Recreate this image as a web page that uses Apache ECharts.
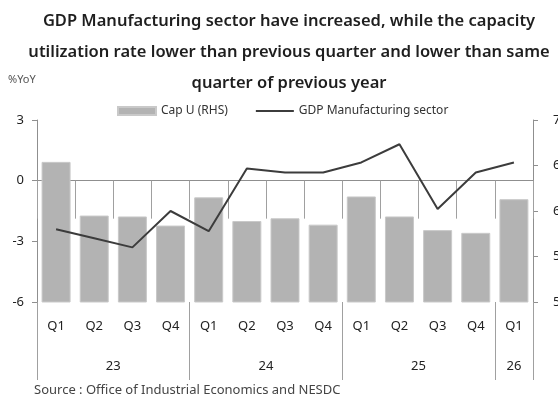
<!DOCTYPE html>
<html>
<head>
<meta charset="utf-8">
<script src="https://cdn.jsdelivr.net/npm/echarts@6/dist/echarts.min.js"></script>
<style>
  html, body { margin: 0; padding: 0; background: #fff; }
  #chart { width: 558px; height: 398px; }
</style>
</head>
<body>
<div id="chart"></div>
<script>
// Quarter labels along the bottom axis
const quarters = ['Q1', 'Q2', 'Q3', 'Q4', 'Q1', 'Q2', 'Q3', 'Q4', 'Q1', 'Q2', 'Q3', 'Q4', 'Q1'];
// Year groups and how many quarters each spans
const years = ['23', '24', '25', '26'];
const yearSpans = [4, 4, 4, 1];
// Capacity utilization (right axis, %)
const capU = [65.4, 59.5, 59.4, 58.4, 61.5, 58.9, 59.2, 58.5, 61.6, 59.4, 57.9, 57.6, 61.3];
// GDP manufacturing sector (left axis, %YoY)
const gdpMfg = [-2.4, -2.85, -3.3, -1.5, -2.5, 0.6, 0.4, 0.4, 0.9, 1.8, -1.4, 0.4, 0.9];
// Axis tick settings
const leftTicks = { min: -6, max: 3, interval: 3 };
const rightTicks = { min: 50, max: 70, interval: 5 };

// Year separators sit on group boundaries, labels at group centres
const yearBounds = [0];
const yearCenters = [];
yearSpans.forEach((n) => {
  const start = yearBounds[yearBounds.length - 1];
  yearCenters.push(start + n / 2);
  yearBounds.push(start + n);
});

const FONT = 'Noto Sans';
const axisGray = '#8f8f8f';

const chart = echarts.init(document.getElementById('chart'));
chart.setOption({
  animation: false,
  textStyle: { fontFamily: FONT },
  title: {
    text: 'GDP Manufacturing sector have increased, while the capacity\nutilization rate lower than previous quarter and lower than same\nquarter of previous year',
    left: 289,
    textAlign: 'center',
    top: 6,
    padding: 0,
    textStyle: { fontFamily: FONT, fontSize: 16.5, fontWeight: 600, color: '#1e1e1e', lineHeight: 31 }
  },
  graphic: [{
    type: 'text', left: 8, top: 74,
    style: { text: '%YoY', font: '11px "Noto Sans"', fill: '#555' }
  }, {
    type: 'text', left: 34, top: 384,
    style: { text: 'Source : Office of Industrial Economics and NESDC', font: '13px "Noto Sans"', fill: '#444' }
  }],
  legend: {
    left: 117, top: 105, padding: 0,
    itemWidth: 38, itemHeight: 8, itemGap: 27,
    textStyle: { fontFamily: FONT, fontSize: 12, color: '#333' },
    data: [
      { name: 'Cap U (RHS)', icon: 'rect' },
      { name: 'GDP Manufacturing sector', itemStyle: { opacity: 0 }, lineStyle: { width: 2, color: '#3c3c3c' } }
    ]
  },
  grid: { left: 37, right: 25, top: 120, bottom: 96, outerBoundsMode: 'none' },
  xAxis: [{
    type: 'category',
    data: quarters,
    boundaryGap: true,
    axisLine: { lineStyle: { color: axisGray, width: 1 } },
    axisTick: { show: true, interval: 0, length: 38, lineStyle: { color: '#a0a0a0' } },
    axisLabel: { interval: 0, margin: 18, fontSize: 13, color: '#222', fontFamily: FONT },
    splitLine: { show: false }
  }, {
    type: 'value',
    position: 'bottom',
    min: 0, max: quarters.length,
    axisLine: { show: false },
    splitLine: { show: false },
    axisTick: { show: true, length: 78, customValues: yearBounds, lineStyle: { color: '#a0a0a0' } },
    axisLabel: {
      customValues: yearCenters,
      margin: 58, fontSize: 13, color: '#222', fontFamily: FONT,
      formatter: v => years[yearCenters.indexOf(v)] || ''
    }
  }],
  yAxis: [{
    type: 'value',
    position: 'left',
    min: leftTicks.min, max: leftTicks.max, interval: leftTicks.interval,
    axisLine: { show: true, lineStyle: { color: axisGray } },
    axisTick: { show: true, length: 5, lineStyle: { color: axisGray } },
    axisLabel: { fontSize: 13, color: '#222', margin: 13, fontFamily: FONT },
    splitLine: { show: false }
  }, {
    type: 'value',
    position: 'right',
    min: rightTicks.min, max: rightTicks.max, interval: rightTicks.interval,
    axisLine: { show: true, lineStyle: { color: axisGray } },
    axisTick: { show: true, length: 5, lineStyle: { color: axisGray } },
    axisLabel: { fontSize: 13, color: '#222', margin: 20, fontFamily: FONT },
    splitLine: { show: false }
  }],
  series: [{
    name: 'Cap U (RHS)',
    type: 'bar',
    xAxisIndex: 0, yAxisIndex: 1,
    data: capU,
    barCategoryGap: '24%',
    itemStyle: { color: '#b3b3b3', borderColor: '#c9c9c9', borderWidth: 1 },
    z: 2
  }, {
    name: 'GDP Manufacturing sector',
    type: 'line',
    xAxisIndex: 0, yAxisIndex: 0,
    data: gdpMfg,
    symbol: 'none',
    lineStyle: { color: '#3c3c3c', width: 2 },
    itemStyle: { color: '#3c3c3c' },
    z: 3
  }]
});
</script>
</body>
</html>
